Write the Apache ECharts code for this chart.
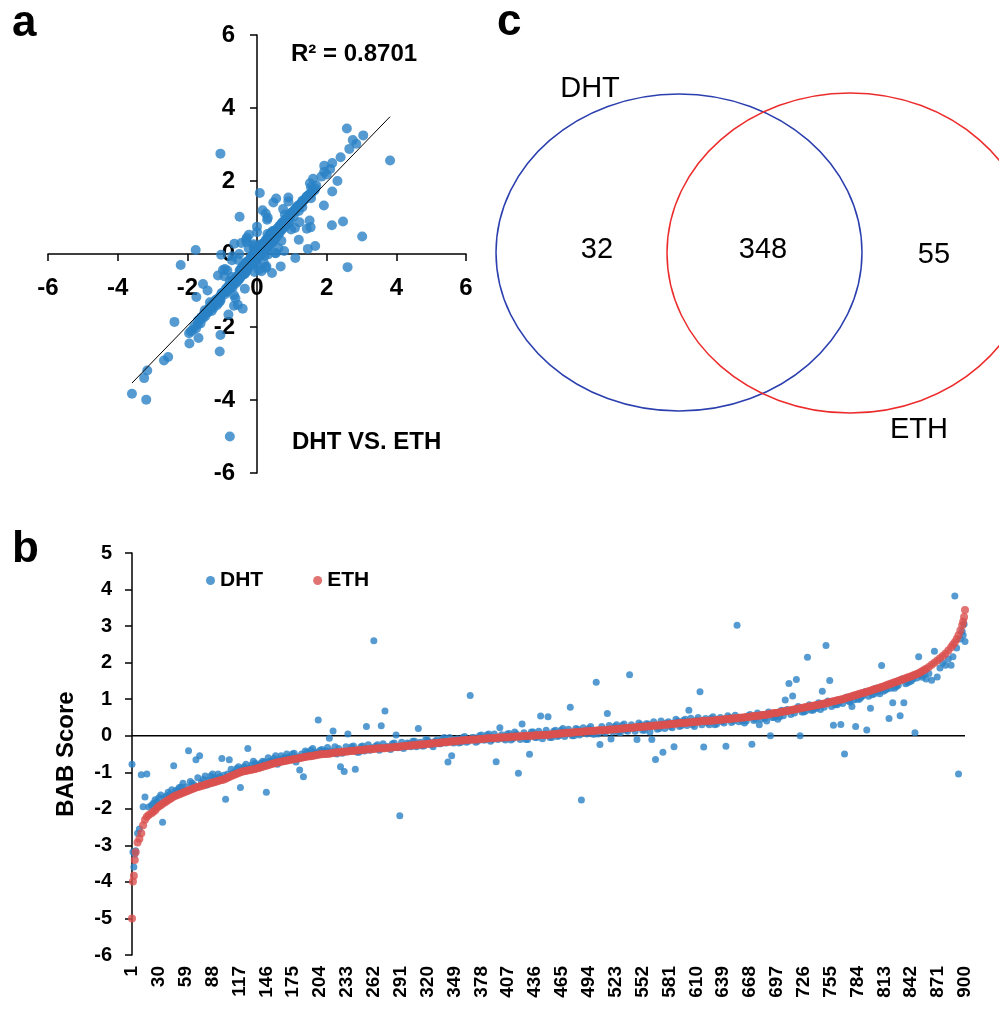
<!DOCTYPE html>
<html>
<head>
<meta charset="utf-8">
<title>DHT vs ETH BAB scores</title>
<script src="https://cdn.jsdelivr.net/npm/echarts@6/dist/echarts.min.js"></script>
<style>
  html, body { margin: 0; padding: 0; background: #fff; }
  #chart { width: 999px; height: 1009px; }
</style>
</head>
<body>
<div id="chart"></div>
<script>
// rank positions (1..900) of the genes that are drawn
const rankIdx = [
  1, 2, 3, 4, 5, 7, 9, 11, 13, 15, 17, 19,
  22, 26, 30, 34, 38, 42, 46, 50, 54, 58,
  62, 66, 70, 74, 78, 82, 86, 90, 94, 98,
  102, 106, 110, 114, 118, 122, 126, 130, 134, 138,
  142, 146, 150, 154, 158, 162, 166, 170, 174, 178,
  182, 186, 190, 194, 198, 202, 206, 210, 214, 218,
  222, 226, 230, 234, 238, 242, 246, 250, 254, 258,
  262, 266, 270, 274, 278, 282, 286, 290, 294, 298,
  302, 306, 310, 314, 318, 322, 326, 330, 334, 338,
  342, 346, 350, 354, 358, 362, 366, 370, 374, 378,
  382, 386, 390, 394, 398, 402, 406, 410, 414, 418,
  422, 426, 430, 434, 438, 442, 446, 450, 454, 458,
  462, 466, 470, 474, 478, 482, 486, 490, 494, 498,
  502, 506, 510, 514, 518, 522, 526, 530, 534, 538,
  542, 546, 550, 554, 558, 562, 566, 570, 574, 578,
  582, 586, 590, 594, 598, 602, 606, 610, 614, 618,
  622, 626, 630, 634, 638, 642, 646, 650, 654, 658,
  662, 666, 670, 674, 678, 682, 686, 690, 694, 698,
  702, 706, 710, 714, 718, 722, 726, 730, 734, 738,
  742, 746, 750, 754, 758, 762, 766, 770, 774, 778,
  782, 786, 790, 794, 798, 802, 806, 810, 814, 818,
  822, 826, 830, 834, 838, 842, 846, 850, 854, 858,
  861, 864, 867, 870, 873, 876, 879, 882, 885, 887, 889, 891, 893, 895, 897, 898, 899, 900,
  24, 28, 32, 36, 40, 44, 48, 52, 56, 60,
  64, 68, 72, 76, 80, 84, 88, 92, 96, 100,
  104, 108, 112, 116, 120, 124, 128, 132, 136, 140,
  144, 148, 152, 156, 160, 164, 168, 172, 176, 180,
  184, 188, 192, 196, 200, 204, 208, 212, 216, 220,
  224, 228, 232, 236, 240, 244, 248, 252, 256, 260,
  264, 268, 272, 276, 280, 284, 288, 292, 296, 300,
  304, 308, 312, 316, 320, 324, 328, 332, 336, 340,
  344, 348, 352, 356, 360, 364, 368, 372, 376, 380,
  384, 388, 392, 396, 400, 404, 408, 412, 416, 420,
  424, 428, 432, 436, 440, 444, 448, 452, 456, 460,
  464, 468, 472, 476, 480, 484, 488, 492, 496, 500,
  504, 508, 512, 516, 520, 524, 528, 532, 536, 540,
  544, 548, 552, 556, 560, 564, 568, 572, 576, 580,
  584, 588, 592, 596, 600, 604, 608, 612, 616, 620,
  624, 628, 632, 636, 640, 644, 648, 652, 656, 660,
  664, 668, 672, 676, 680, 684, 688, 692, 696, 700,
  704, 708, 712, 716, 720, 724, 728, 732, 736, 740,
  744, 748, 752, 756, 760, 764, 768, 772, 776, 780,
  784, 788, 792, 796, 800, 804, 808, 812, 816, 820,
  824, 828, 832, 836, 840, 844, 848, 852, 856
];

// ETH BAB score (sorted)
const ethScore = [
  -5.00, -3.99, -3.83, -3.40, -3.19, -2.92, -2.82, -2.67, -2.45, -2.30, -2.22, -2.17,
  -2.12, -2.04, -1.93, -1.86, -1.80, -1.73, -1.66, -1.62, -1.58, -1.54,
  -1.50, -1.46, -1.42, -1.39, -1.36, -1.32, -1.30, -1.27, -1.24, -1.21,
  -1.18, -1.13, -1.08, -1.04, -1.00, -0.97, -0.95, -0.93, -0.91, -0.88,
  -0.85, -0.82, -0.79, -0.76, -0.73, -0.71, -0.69, -0.67, -0.65, -0.63,
  -0.61, -0.59, -0.57, -0.56, -0.54, -0.52, -0.51, -0.50, -0.49, -0.47,
  -0.46, -0.45, -0.44, -0.43, -0.42, -0.41, -0.40, -0.39, -0.38, -0.37,
  -0.36, -0.35, -0.34, -0.34, -0.33, -0.32, -0.31, -0.30, -0.29, -0.28,
  -0.27, -0.26, -0.25, -0.24, -0.23, -0.22, -0.21, -0.20, -0.19, -0.18,
  -0.17, -0.16, -0.15, -0.14, -0.13, -0.12, -0.11, -0.10, -0.10, -0.09,
  -0.08, -0.07, -0.07, -0.06, -0.05, -0.05, -0.04, -0.03, -0.03, -0.02,
  -0.01, -0.01, 0.00, 0.00, 0.01, 0.02, 0.02, 0.03, 0.04, 0.05,
  0.06, 0.07, 0.08, 0.08, 0.09, 0.10, 0.11, 0.12, 0.12, 0.13,
  0.14, 0.15, 0.15, 0.16, 0.17, 0.18, 0.19, 0.20, 0.21, 0.22,
  0.22, 0.23, 0.24, 0.25, 0.26, 0.27, 0.28, 0.29, 0.30, 0.31,
  0.32, 0.33, 0.34, 0.35, 0.35, 0.36, 0.37, 0.38, 0.39, 0.40,
  0.41, 0.41, 0.42, 0.43, 0.44, 0.45, 0.46, 0.47, 0.48, 0.49,
  0.50, 0.51, 0.53, 0.54, 0.55, 0.57, 0.58, 0.60, 0.62, 0.63,
  0.65, 0.67, 0.69, 0.71, 0.73, 0.75, 0.77, 0.79, 0.81, 0.83,
  0.85, 0.87, 0.89, 0.92, 0.94, 0.97, 0.99, 1.02, 1.05, 1.08,
  1.11, 1.14, 1.17, 1.20, 1.23, 1.27, 1.30, 1.33, 1.37, 1.41,
  1.44, 1.48, 1.52, 1.55, 1.59, 1.63, 1.67, 1.71, 1.77, 1.83,
  1.88, 1.94, 2.00, 2.06, 2.12, 2.18, 2.25, 2.33, 2.42, 2.49, 2.56, 2.65, 2.75, 2.88, 3.02, 3.12, 3.25, 3.44,
  -2.08, -1.98, -1.90, -1.83, -1.76, -1.70, -1.64, -1.60, -1.56, -1.52,
  -1.48, -1.44, -1.40, -1.37, -1.34, -1.31, -1.28, -1.25, -1.22, -1.20,
  -1.15, -1.10, -1.06, -1.02, -0.98, -0.96, -0.94, -0.92, -0.89, -0.86,
  -0.83, -0.80, -0.77, -0.74, -0.72, -0.70, -0.68, -0.66, -0.64, -0.62,
  -0.60, -0.58, -0.56, -0.55, -0.53, -0.51, -0.50, -0.49, -0.48, -0.46,
  -0.45, -0.44, -0.43, -0.42, -0.41, -0.40, -0.39, -0.38, -0.37, -0.36,
  -0.35, -0.34, -0.34, -0.33, -0.32, -0.31, -0.30, -0.29, -0.28, -0.27,
  -0.26, -0.25, -0.24, -0.23, -0.22, -0.21, -0.20, -0.19, -0.18, -0.17,
  -0.16, -0.15, -0.14, -0.13, -0.12, -0.11, -0.10, -0.10, -0.09, -0.08,
  -0.07, -0.07, -0.06, -0.05, -0.05, -0.04, -0.04, -0.03, -0.02, -0.02,
  -0.01, 0.00, 0.00, 0.01, 0.01, 0.02, 0.03, 0.03, 0.04, 0.05,
  0.06, 0.07, 0.08, 0.09, 0.10, 0.10, 0.11, 0.12, 0.13, 0.13,
  0.14, 0.15, 0.16, 0.17, 0.17, 0.18, 0.19, 0.20, 0.21, 0.22,
  0.23, 0.24, 0.24, 0.25, 0.26, 0.27, 0.28, 0.29, 0.30, 0.31,
  0.32, 0.33, 0.34, 0.35, 0.36, 0.37, 0.38, 0.39, 0.40, 0.40,
  0.41, 0.42, 0.43, 0.44, 0.45, 0.46, 0.47, 0.48, 0.49, 0.50,
  0.51, 0.52, 0.53, 0.55, 0.56, 0.57, 0.59, 0.61, 0.62, 0.64,
  0.66, 0.68, 0.70, 0.72, 0.74, 0.76, 0.78, 0.80, 0.82, 0.84,
  0.86, 0.88, 0.90, 0.93, 0.95, 0.98, 1.00, 1.03, 1.06, 1.10,
  1.13, 1.16, 1.18, 1.22, 1.25, 1.28, 1.31, 1.35, 1.39, 1.42,
  1.46, 1.50, 1.53, 1.57, 1.61, 1.65, 1.69, 1.74, 1.80
];

// DHT BAB score of the same genes
const dhtScore = [
  -0.78, -3.18, -3.59, -3.24, -3.15, -2.67, -2.55, -1.07, -1.94, -1.68, -1.05, -1.95,
  -1.90, -1.75, -1.70, -2.37, -1.65, -1.60, -0.82, -1.48, -1.40, -1.50,
  -0.41, -1.30, -0.66, -0.55, -1.20, -1.35, -1.10, -1.15, -1.05, -0.62,
  -1.74, -0.66, -1.02, -0.90, -1.42, -0.85, -0.35, -0.80, -0.75, -0.82,
  -0.70, -1.55, -0.70, -0.62, -0.78, -0.55, -0.60, -0.58, -0.50, -0.72,
  -0.94, -1.12, -0.45, -0.40, -0.48, 0.43, -0.38, -0.42, -0.07, 0.13,
  -0.50, -0.85, -0.98, 0.05, -0.30, -0.92, -0.45, -0.28, 0.25, -0.40,
  2.60, -0.25, 0.27, 0.68, -0.30, -0.22, 0.02, -2.19, -0.35, -0.20,
  -0.30, -0.15, 0.20, -0.28, -0.10, -0.18, -0.30, -0.12, -0.22, -0.05,
  -0.72, -0.55, -0.10, -0.20, -0.05, -0.18, 1.10, -0.05, -0.15, 0.02,
  -0.12, 0.05, -0.10, -0.71, 0.22, -0.08, 0.05, -0.12, 0.10, -1.03,
  0.32, -0.10, -0.51, 0.10, -0.05, 0.54, 0.05, 0.52, -0.05, 0.15,
  0.00, 0.20, 0.05, 0.78, 0.00, 0.18, -1.76, 0.10, 0.20, 0.05,
  1.46, -0.24, 0.10, 0.61, -0.09, 0.25, 0.10, 0.28, 0.15, 1.67,
  0.20, -0.10, 0.30, 0.15, 0.32, -0.10, -0.65, 0.20, -0.45, 0.35,
  0.25, -0.30, 0.40, 0.28, 0.45, 0.70, 0.30, 0.42, 1.20, -0.31,
  0.35, 0.48, 0.30, 0.45, 0.38, -0.29, 0.50, 0.40, 3.02, 0.45,
  0.35, 0.55, -0.23, 0.45, 0.30, 0.58, 0.40, 0.00, 0.50, 0.45,
  0.70, 0.98, 1.43, 1.09, 1.54, 0.00, 0.65, 2.15, 0.70, 0.75,
  0.90, 1.22, 2.47, 1.51, 0.29, 0.85, 0.31, -0.50, 0.95, 0.80,
  0.25, 1.00, 1.10, 0.16, 0.75, 1.15, 1.20, 1.92, 1.25, 0.47,
  0.90, 1.35, 0.55, 0.90, 1.45, 1.50, 0.08, 2.16, 1.60, 1.55,
  1.70, 1.52, 2.31, 1.61, 1.85, 2.00, 1.93, 2.10, 1.93, 2.16, 3.82, 2.40, -1.05, 2.65, 2.85, 2.75, 3.05, 2.58,
  -1.85, -1.80, -1.62, -1.70, -1.55, -1.48, -1.52, -1.42, -1.30, -1.40,
  -1.25, -1.35, -1.15, -1.28, -1.10, -1.22, -1.05, -1.18, -1.12, -1.08,
  -1.05, -0.92, -1.00, -0.85, -0.90, -0.78, -0.88, -0.70, -0.80, -0.75,
  -0.72, -0.60, -0.70, -0.55, -0.66, -0.62, -0.50, -0.62, -0.48, -0.58,
  -0.50, -0.42, -0.52, -0.35, -0.45, -0.40, -0.44, -0.32, -0.42, -0.30,
  -0.35, -0.48, -0.30, -0.40, -0.28, -0.45, -0.30, -0.42, -0.25, -0.33,
  -0.28, -0.40, -0.22, -0.30, -0.38, -0.20, -0.33, -0.18, -0.30, -0.22,
  -0.15, -0.30, -0.18, -0.28, -0.12, -0.25, -0.15, -0.22, -0.08, -0.20,
  -0.05, -0.20, -0.08, -0.18, -0.02, -0.15, -0.05, -0.18, 0.00, -0.12,
  0.02, -0.15, 0.05, -0.10, 0.03, -0.12, 0.06, -0.08, 0.05, -0.10,
  0.08, -0.10, 0.10, -0.05, 0.12, -0.08, 0.15, -0.05, 0.12, -0.02,
  0.15, -0.02, 0.18, 0.00, 0.20, 0.02, 0.22, 0.05, 0.25, 0.04,
  0.05, 0.25, 0.08, 0.28, 0.10, 0.30, 0.08, 0.32, 0.12, 0.30,
  0.12, 0.35, 0.15, 0.33, 0.10, 0.38, 0.18, 0.40, 0.20, 0.38,
  0.22, 0.45, 0.25, 0.42, 0.28, 0.48, 0.25, 0.50, 0.30, 0.47,
  0.30, 0.52, 0.32, 0.50, 0.35, 0.55, 0.36, 0.56, 0.38, 0.40,
  0.40, 0.58, 0.42, 0.62, 0.45, 0.48, 0.65, 0.50, 0.55, 0.52,
  0.55, 0.72, 0.58, 0.62, 0.80, 0.65, 0.68, 0.85, 0.70, 0.75,
  0.72, 0.78, 0.95, 0.80, 0.85, 0.90, 0.88, 1.05, 0.92, 0.98,
  1.00, 1.05, 1.20, 1.08, 1.12, 1.30, 1.15, 1.22, 1.28, 1.30,
  1.30, 1.38, 1.55, 1.42, 1.48, 1.55, 1.58, 1.65, 1.68
];

if (rankIdx.length !== ethScore.length || rankIdx.length !== dhtScore.length) {
  throw new Error('length mismatch ' + rankIdx.length + ' ' + ethScore.length + ' ' + dhtScore.length);
}

// linear trendline of panel a
const trendSlope = 0.985;
const trendIntercept = 0.0;
const r2Text = 'R\u00b2 = 0.8701';

// x-axis tick labels of panel b (rank 1..900)
const rankLabels = Array.from({ length: 900 }, (_, i) => String(i + 1));

// Venn diagram
const vennNames = ['DHT', 'ETH'];
const vennCounts = [32, 348, 55]; // DHT only, both, ETH only

const FONT = '"Liberation Sans", Arial, sans-serif';
const BLUE = '#2a82c5';
const RED = '#da504f';

const scatterAB = rankIdx.map((_, k) => [dhtScore[k], ethScore[k]]);
const dhtMin = Math.min(...dhtScore);
const dhtMax = Math.max(...dhtScore);
const trendData = [dhtMin, dhtMax].map(x => [x, trendSlope * x + trendIntercept]);

const chart = echarts.init(document.getElementById('chart'), null, { renderer: 'canvas' });

const boldLabel = (size, margin) => ({
  color: '#000', fontFamily: FONT, fontWeight: 'bold', fontSize: size, margin: margin
});
const blackLine = { color: '#000', width: 1.5 };

function txt(x, y, text, size, bold, align) {
  return {
    type: 'text', x: x, y: y, z: 100,
    style: {
      text: text, fill: '#000',
      font: (bold ? 'bold ' : '') + size + 'px ' + FONT,
      align: align || 'center', verticalAlign: 'middle',
      textAlign: align || 'center', textVerticalAlign: 'middle'
    }
  };
}

// panel a grid: axes cross in the middle
const gridA = { left: 48, top: 35, width: 418, height: 438 };

chart.setOption({
  animation: false,
  backgroundColor: '#fff',
  legend: {
    data: ['DHT', 'ETH'],
    left: 201, top: 565,
    icon: 'circle', itemWidth: 9, itemHeight: 9, itemGap: 50,
    textStyle: { color: '#000', fontFamily: FONT, fontWeight: 'bold', fontSize: 21 }
  },
  grid: [
    gridA,
    { left: 132, top: 553, width: 833, height: 402 }
  ],
  xAxis: [
    {
      gridIndex: 0, type: 'value', min: -6, max: 6, interval: 2,
      position: 'bottom', offset: -gridA.height / 2,
      axisLine: { onZero: false, lineStyle: blackLine },
      axisTick: { length: 7, lineStyle: blackLine },
      axisLabel: boldLabel(24, 22),
      splitLine: { show: false }
    },
    {
      gridIndex: 1, type: 'category', data: rankLabels, boundaryGap: false,
      axisLine: { show: false, onZero: false },
      axisTick: { show: false },
      axisLabel: Object.assign(boldLabel(19, 11), { interval: 28, rotate: 90 }),
      splitLine: { show: false }
    }
  ],
  yAxis: [
    {
      gridIndex: 0, type: 'value', min: -6, max: 6, interval: 2,
      position: 'left', offset: -gridA.width / 2,
      axisLine: { show: true, onZero: false, lineStyle: blackLine },
      axisTick: { show: true, length: 7, lineStyle: blackLine },
      axisLabel: boldLabel(24, 22),
      splitLine: { show: false }
    },
    {
      gridIndex: 1, type: 'value', min: -6, max: 5, interval: 1,
      axisLine: { show: true, onZero: false, lineStyle: blackLine },
      axisTick: { show: true, length: 7, lineStyle: blackLine },
      axisLabel: boldLabel(20, 20),
      splitLine: { show: false },
      name: 'BAB Score', nameLocation: 'middle', nameGap: 54,
      nameTextStyle: { color: '#000', fontFamily: FONT, fontWeight: 'bold', fontSize: 24 }
    }
  ],
  series: [
    {
      name: 'DHT vs ETH', type: 'scatter', xAxisIndex: 0, yAxisIndex: 0,
      data: scatterAB, symbolSize: 10, itemStyle: { color: BLUE }, z: 2
    },
    {
      name: 'trend', type: 'line', xAxisIndex: 0, yAxisIndex: 0,
      data: trendData, showSymbol: false, symbol: 'none',
      lineStyle: { color: '#000', width: 1 }, z: 3
    },
    {
      name: 'zero', type: 'line', xAxisIndex: 1, yAxisIndex: 1,
      data: [[0, 0], [rankLabels.length - 1, 0]], symbol: 'none',
      lineStyle: blackLine, z: 1
    },
    {
      name: 'DHT', type: 'scatter', xAxisIndex: 1, yAxisIndex: 1,
      data: rankIdx.map((r, k) => [r - 1, dhtScore[k]]),
      symbolSize: 7, itemStyle: { color: BLUE }, z: 2
    },
    {
      name: 'ETH', type: 'scatter', xAxisIndex: 1, yAxisIndex: 1,
      data: rankIdx.map((r, k) => [r - 1, ethScore[k]]),
      symbolSize: 8, itemStyle: { color: RED }, z: 3
    }
  ],
  graphic: [
    txt(12, 24, 'a', 44, true, 'left'),
    txt(12, 550, 'b', 44, true, 'left'),
    txt(497, 23, 'c', 44, true, 'left'),
    txt(291, 54, r2Text, 24, true, 'left'),
    txt(292, 442, 'DHT VS. ETH', 24, true, 'left'),
    {
      type: 'ellipse', z: 50,
      shape: { cx: 679, cy: 252.5, rx: 183, ry: 158.5 },
      style: { fill: 'none', stroke: '#2b3fae', lineWidth: 1.5 }
    },
    {
      type: 'ellipse', z: 50,
      shape: { cx: 850, cy: 253, rx: 183, ry: 160 },
      style: { fill: 'none', stroke: '#ec2c2c', lineWidth: 1.5 }
    },
    txt(590, 89, vennNames[0], 29, false),
    txt(919, 430, vennNames[1], 29, false),
    txt(597, 250, String(vennCounts[0]), 29, false),
    txt(763, 250, String(vennCounts[1]), 29, false),
    txt(934, 255, String(vennCounts[2]), 29, false)
  ]
});
</script>
</body>
</html>
